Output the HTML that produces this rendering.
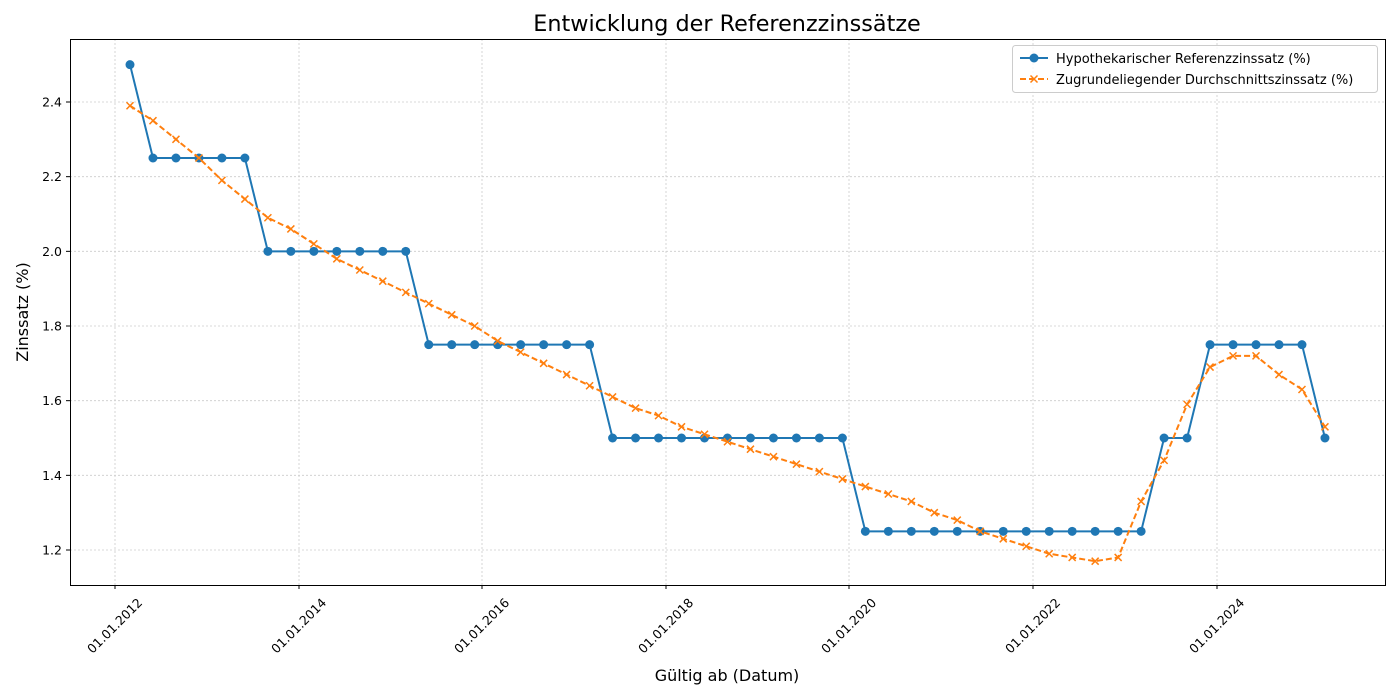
<!DOCTYPE html>
<html><head><meta charset="utf-8"><style>
html,body{margin:0;padding:0;background:#fff;}
svg{display:block;font-family:"DejaVu Sans","Liberation Sans",sans-serif;}
</style></head><body>
<svg id="c" width="1400" height="700" xmlns="http://www.w3.org/2000/svg">
<text x="727" y="31" font-size="22.3" text-anchor="middle" fill="#000">Entwicklung der Referenzzinssätze</text>
<text x="727" y="681" font-size="16" text-anchor="middle">Gültig ab (Datum)</text>
<text transform="translate(28,312) rotate(-90)" font-size="16" text-anchor="middle">Zinssatz (%)</text>
<g id="grid"></g>
<g id="series"></g>
<rect x="70.5" y="39.5" width="1315" height="546" fill="none" stroke="#000" stroke-width="1"/>
<g id="legend">
<rect x="1012.5" y="45.5" width="365" height="47" rx="3" fill="#fff" fill-opacity="0.8" stroke="#ccc"/>
<line x1="1020" y1="58" x2="1048" y2="58" stroke="#1f77b4" stroke-width="2"/>
<circle cx="1034" cy="58" r="4.5" fill="#1f77b4"/>
<text x="1056" y="63" font-size="13">Hypothekarischer Referenzzinssatz (%)</text>
<line x1="1020" y1="79" x2="1048" y2="79" stroke="#ff7f0e" stroke-width="2" stroke-dasharray="6,3"/>
<path d="M1030.5 75.5 L1037.5 82.5 M1037.5 75.5 L1030.5 82.5" stroke="#ff7f0e" stroke-width="1.5"/>
<text x="1056" y="84" font-size="13">Zugrundeliegender Durchschnittszinssatz (%)</text>
</g>
</svg>
<script>
const ns="http://www.w3.org/2000/svg";
function el(p,t,a,txt){const e=document.createElementNS(ns,t);for(const k in a)e.setAttribute(k,a[k]);if(txt!==undefined)e.textContent=txt;p.appendChild(e);return e;}
const g=document.getElementById('grid'),s=document.getElementById('series');
const Y=v=>550-(v-1.2)*373.33;
for(let i=0;i<7;i++){const v=1.2+i*0.2,y=Y(v);
el(g,'line',{x1:70,x2:1385,y1:y,y2:y,stroke:'#ccc','stroke-dasharray':'2,2','stroke-width':0.8});
el(g,'line',{x1:66,x2:70,y1:y,y2:y,stroke:'#000'});
el(g,'text',{x:62,y:y+4.5,'font-size':12.5,'text-anchor':'end'},v.toFixed(1));}
const xt=[115,299,482,666,849,1033,1217],yr=[2012,2014,2016,2018,2020,2022,2024];
xt.forEach((x,i)=>{el(g,'line',{x1:x,x2:x,y1:39,y2:585,stroke:'#ccc','stroke-dasharray':'2,2','stroke-width':0.8});
el(g,'line',{x1:x,x2:x,y1:585,y2:589,stroke:'#000'});
el(g,'text',{transform:`translate(${x},${626}) rotate(-45)`,'font-size':12.5,'text-anchor':'middle',dy:4},'01.01.'+yr[i]);});
const X=i=>130+i*22.98;
const b=[2.5];[[2.25,5],[2.0,7],[1.75,8],[1.5,11],[1.25,13],[1.5,2],[1.75,5],[1.5,1]].forEach(([v,n])=>{for(let i=0;i<n;i++)b.push(v);});
const o=[2.39,2.35,2.30,2.25,2.19,2.14,2.09,2.06,2.02,1.98,1.95,1.92,1.89,1.86,1.83,1.80,1.76,1.73,1.70,1.67,1.64,1.61,1.58,1.56,1.53,1.51,1.49,1.47,1.45,1.43,1.41,1.39,1.37,1.35,1.33,1.30,1.28,1.25,1.23,1.21,1.19,1.18,1.17,1.18,1.33,1.44,1.59,1.69,1.72,1.72,1.67,1.63,1.53];
el(s,'polyline',{points:b.map((v,i)=>X(i)+','+Y(v)).join(' '),fill:'none',stroke:'#1f77b4','stroke-width':2});
b.forEach((v,i)=>el(s,'circle',{cx:X(i),cy:Y(v),r:4.5,fill:'#1f77b4'}));
el(s,'polyline',{points:o.map((v,i)=>X(i)+','+Y(v)).join(' '),fill:'none',stroke:'#ff7f0e','stroke-width':2,'stroke-dasharray':'6,3'});
o.forEach((v,i)=>{const x=X(i),y=Y(v),d=3.5;el(s,'path',{d:`M${x-d} ${y-d}L${x+d} ${y+d}M${x+d} ${y-d}L${x-d} ${y+d}`,stroke:'#ff7f0e','stroke-width':1.5});});
</script>
</body></html>
